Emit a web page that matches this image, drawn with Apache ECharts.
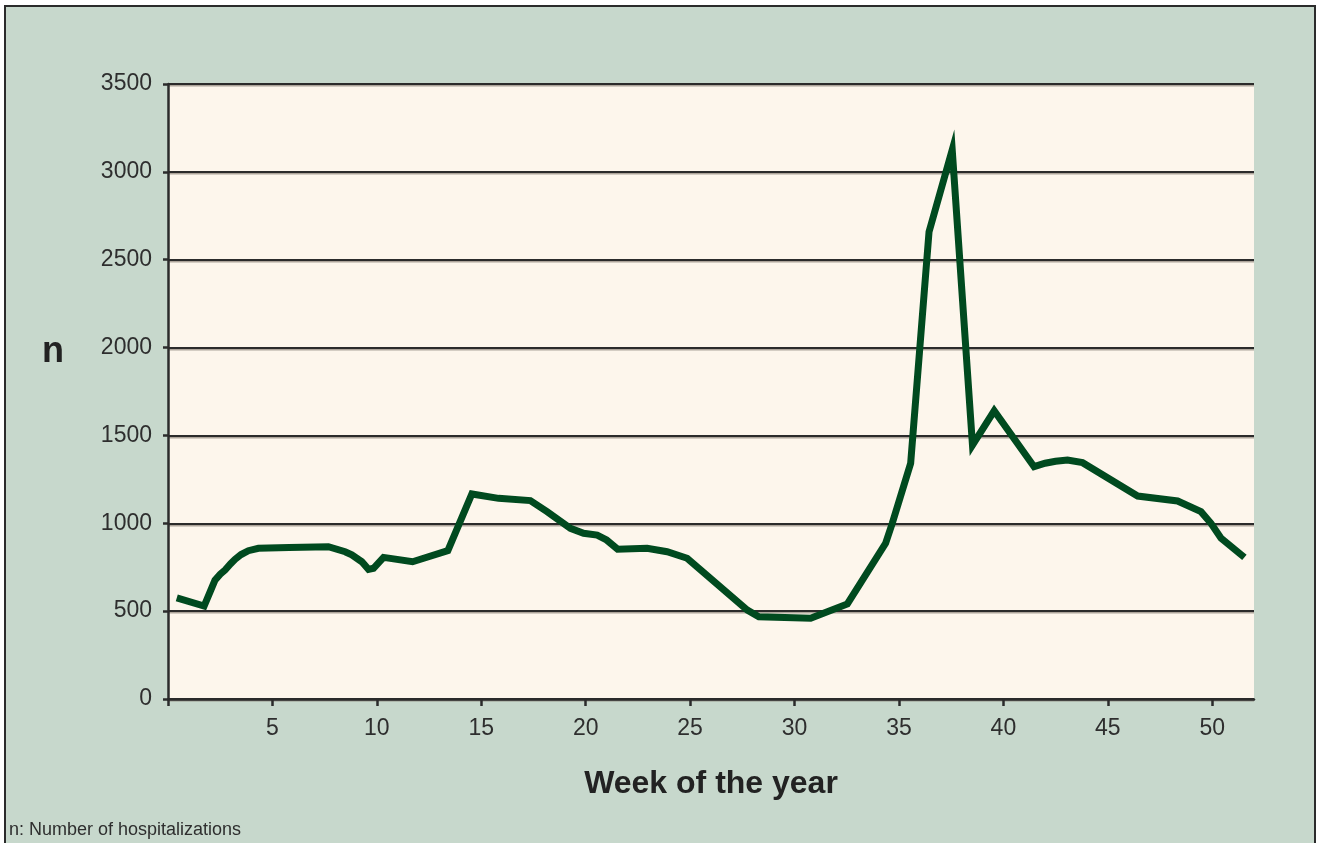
<!DOCTYPE html>
<html>
<head>
<meta charset="utf-8">
<script src="https://cdn.jsdelivr.net/npm/echarts@6/dist/echarts.min.js"></script>
<style>
  html, body { margin: 0; padding: 0; background: #ffffff; }
  #wrap { position: relative; width: 1321px; height: 843px; overflow: hidden; }
  #frame { position: absolute; left: 4px; top: 5px; width: 1312px; height: 860px;
           box-sizing: border-box; background: #c7d8cc; border: 2.5px solid #2b2b2b; }
  #chart { position: absolute; left: 0; top: 0; width: 1321px; height: 843px; }
</style>
</head>
<body>
<div id="wrap">
  <div id="frame"></div>
  <div id="chart"></div>
</div>
<script>
// Week of the year (position along the axis) and number of hospitalizations
const weeks = [0.42, 1.73, 2.0, 2.25, 2.5, 2.73, 3.0, 3.21, 3.5, 3.85, 4.33, 5.8, 7.68, 8.48, 8.8, 9.28, 9.6, 9.84,
  10.32, 11.71, 13.4, 14.55, 15.83, 17.35, 18.15, 19.27, 19.9, 20.55, 21.0, 21.53, 22.94,
  23.9, 24.86, 27.74, 28.29, 30.77, 32.53, 34.36, 34.68, 35.56, 36.44, 37.55, 38.52, 39.56,
  41.47, 42.0, 42.5, 43.07, 43.79, 46.43, 48.34, 49.46, 49.94, 50.42, 51.54];
const hospitalizations = [576, 529, 605, 677, 710, 734, 770, 795, 822, 844, 858, 862, 867, 838, 820, 781, 738, 744,
  806, 781, 844, 1167, 1142, 1129, 1066, 971, 943, 933, 905, 852, 858,
  838, 801, 506, 468, 459, 541, 886, 1000, 1341, 2659, 3125, 1445, 1640,
  1322, 1342, 1353, 1360, 1345, 1155, 1127, 1066, 1000, 915, 806];
const xTickValues = [0, 5, 10, 15, 20, 25, 30, 35, 40, 45, 50];
const xLabelValues = [5, 10, 15, 20, 25, 30, 35, 40, 45, 50];
const xAxisTitle = 'Week of the year';
const yAxisTitle = 'n';
const footnote = 'n: Number of hospitalizations';

const seriesData = weeks.map((w, i) => [w, hospitalizations[i]]);
const font = "'Liberation Sans', Arial, sans-serif";
const ink = '#2b2b2b';

const chart = echarts.init(document.getElementById('chart'), null, { renderer: 'canvas' });
chart.setOption({
  backgroundColor: 'transparent',
  animation: false,
  grid: {
    left: 168, top: 84, right: 67, bottom: 144,
    show: true, backgroundColor: '#fdf6ec', borderWidth: 0
  },
  xAxis: {
    type: 'value', min: 0, max: 52,
    name: xAxisTitle, nameLocation: 'middle', nameGap: 69,
    nameTextStyle: { fontFamily: font, fontSize: 32, fontWeight: 'bold', color: '#222' },
    axisLine: { show: true, onZero: false, lineStyle: { color: ink, width: 2.5 } },
    axisTick: { show: true, length: 7, lineStyle: { color: ink, width: 2.5 }, customValues: xTickValues },
    axisLabel: { customValues: xLabelValues, margin: 18, fontFamily: font, fontSize: 23, color: '#2e2e2e' },
    splitLine: { show: false }
  },
  yAxis: {
    type: 'value', min: 0, max: 3500, interval: 500,
    axisLine: { show: true, lineStyle: { color: ink, width: 2.5 } },
    axisTick: { show: true, length: 5, lineStyle: { color: ink, width: 2.5 } },
    axisLabel: { margin: 16, fontFamily: font, fontSize: 23, color: '#2e2e2e', formatter: v => String(v) },
    splitLine: { show: true, lineStyle: { color: ink, width: 2, shadowColor: 'rgba(120,110,100,0.6)', shadowOffsetY: 1.5, shadowBlur: 0 } }
  },
  series: [{
    type: 'line',
    data: seriesData,
    showSymbol: false,
    symbol: 'none',
    smooth: false,
    lineStyle: { color: '#004a1f', width: 7, join: 'miter', miterLimit: 12, cap: 'butt' },
    z: 5
  }],
  graphic: [{
    type: 'text', left: 42, top: 334,
    style: { text: yAxisTitle, fontFamily: font, fontSize: 36, fontWeight: 'bold', fill: '#222' }
  }, {
    type: 'text', left: 9, top: 821,
    style: { text: footnote, fontFamily: font, fontSize: 18, fill: '#2e2e2e' }
  }]
});
</script>
</body>
</html>
